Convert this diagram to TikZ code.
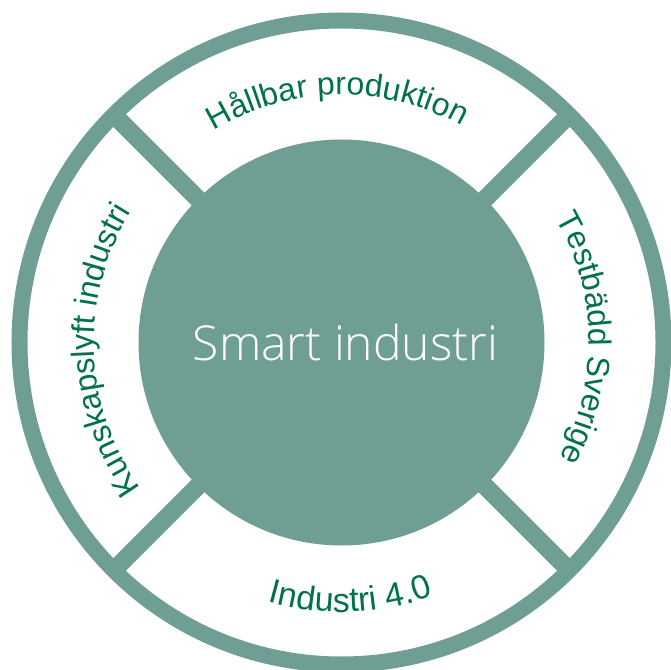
\documentclass[tikz,border=0pt]{standalone}
\usepackage{fontspec}
\setmainfont{Liberation Sans}
\newfontfamily\hubfont{Open Sans Light}
\usetikzlibrary{decorations.text}
\definecolor{tealring}{RGB}{111,158,148}
\definecolor{labelgreen}{RGB}{0,114,71}
\newcommand\lblfmt{\fontsize{32pt}{32pt}\selectfont\color{labelgreen}}
\newcommand\lblfmtb{\fontsize{34pt}{34pt}\selectfont\color{labelgreen}}
\begin{document}
\begin{tikzpicture}[x=1pt,y=1pt,
  ring/.style={draw=tealring, line width=16pt},
  spoke/.style={draw=tealring, line width=18pt, shorten <=-3pt},
  hubstyle/.style={circle, fill=tealring, minimum size=406pt, inner sep=0pt, text=white, font=\hubfont\fontsize{48pt}{48pt}\selectfont},
  arclabel/.style={decorate, decoration={text along path, text align=center, text={|\lblfmt|#1}}},
  arclabelb/.style={decorate, decoration={text along path, text align=center, text={|\lblfmtb|#1}}}
]
\useasboundingbox (-341.5,-326.5) rectangle (329.5,342.5);
\coordinate (c) at (0,0);
\draw[ring] (c) circle[radius=322pt];
\coordinate (o45) at (45:322pt);
\coordinate (o135) at (135:322pt);
\coordinate (o225) at (225:322pt);
\coordinate (o315) at (315:322pt);
\node[hubstyle] (hub) at (c) {\hspace{8pt}Smart industri};
\draw[spoke] (hub.45) -- (o45);
\draw[spoke] (hub.135) -- (o135);
\draw[spoke] (hub.225) -- (o225);
\draw[spoke] (hub.315) -- (o315);
\path[arclabel={Hållbar produktion}] (151:247.5pt) arc[start angle=151, end angle=31, radius=247.5pt];
\path[arclabel={Testbädd Sverige}] (61:247.5pt) arc[start angle=61, end angle=-59, radius=247.5pt];
\path[arclabel={Kunskapslyft industri}] (242:247.5pt) arc[start angle=242, end angle=122, radius=247.5pt];
\path[arclabelb={Industri 4.0}] (212:269.5pt) arc[start angle=212, end angle=332, radius=269.5pt];
\end{tikzpicture}
\end{document}
